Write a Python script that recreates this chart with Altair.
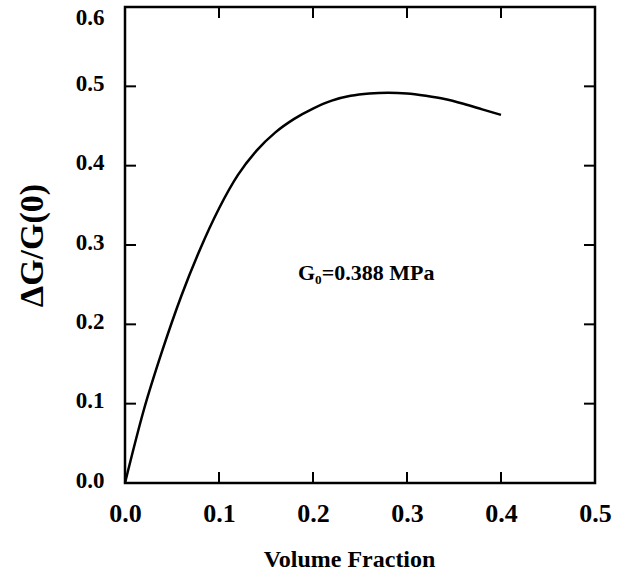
import altair as alt
import pandas as pd

# Curve
vol_fraction = [0.0, 0.02, 0.04, 0.06, 0.08, 0.10, 0.12, 0.14, 0.16, 0.18, 0.20, 0.22, 0.24,
                0.26, 0.28, 0.30, 0.32, 0.34, 0.36, 0.38, 0.40]
delta_g = [0.0, 0.092, 0.168, 0.236, 0.295, 0.346, 0.388, 0.419, 0.442, 0.459, 0.472, 0.482, 0.488,
           0.491, 0.492, 0.491, 0.488, 0.484, 0.478, 0.471, 0.464]

x_ticks = [0.0, 0.1, 0.2, 0.3, 0.4, 0.5]
y_ticks = [0.0, 0.1, 0.2, 0.3, 0.4, 0.5, 0.6]
x_inner_ticks = [0.1, 0.2, 0.3, 0.4]
y_inner_ticks = [0.1, 0.2, 0.3, 0.4, 0.5]

note_x = [0.184]
note_y = [0.265]
note_text = ["G\u2080=0.388 MPa"]

FONT = "Liberation Serif"
W, H = 470, 476
TL = 11

curve_df = pd.DataFrame({"x": vol_fraction, "y": delta_g})
xt_df = pd.DataFrame({"x": x_inner_ticks})
yt_df = pd.DataFrame({"y": y_inner_ticks})
note_df = pd.DataFrame({"x": note_x, "y": note_y, "t": note_text})

xs = alt.Scale(domain=[0, 0.5], nice=False)
ys = alt.Scale(domain=[0, 0.6], nice=False)

curve = alt.Chart(curve_df).mark_line(color="black", strokeWidth=2.5, interpolate="monotone").encode(
    x=alt.X("x:Q", scale=xs, axis=alt.Axis(
        title="Volume Fraction", values=x_ticks, format=".1f", domain=False, ticks=False, grid=False,
        labelFlush=False,
        labelFont=FONT, labelFontSize=26, labelFontWeight="bold", labelColor="black", labelPadding=17,
        titleFont=FONT, titleFontSize=24, titleFontWeight="bold", titleColor="black",
        titleX=224, titleY=83, titleBaseline="alphabetic")),
    y=alt.Y("y:Q", scale=ys, axis=alt.Axis(
        title="\u0394G/G(0)", values=y_ticks, format=".1f", domain=False, ticks=False, grid=False,
        labelFlush=False,
        labelOffset={"condition": {"test": "datum.value >= 0.59", "value": 10}, "value": -3},
        labelFont=FONT, labelFontSize=23, labelFontWeight="bold", labelColor="black", labelPadding=21,
        titleFont=FONT, titleFontSize=34, titleFontWeight="bold", titleColor="black",
        titleX=-83, titleY=H / 2, titleBaseline="alphabetic")),
)

bottom_ticks = alt.Chart(xt_df).mark_rule(color="black", strokeWidth=2).encode(
    x=alt.X("x:Q", scale=xs), y=alt.value(H), y2=alt.value(H - TL))
top_ticks = alt.Chart(xt_df).mark_rule(color="black", strokeWidth=2).encode(
    x=alt.X("x:Q", scale=xs), y=alt.value(0), y2=alt.value(TL))
left_ticks = alt.Chart(yt_df).mark_rule(color="black", strokeWidth=2).encode(
    y=alt.Y("y:Q", scale=ys), x=alt.value(0), x2=alt.value(TL))
right_ticks = alt.Chart(yt_df).mark_rule(color="black", strokeWidth=2).encode(
    y=alt.Y("y:Q", scale=ys), x=alt.value(W), x2=alt.value(W - TL))

note = alt.Chart(note_df).mark_text(
    font=FONT, fontSize=22, fontWeight="bold", color="black", align="left", baseline="middle"
).encode(x=alt.X("x:Q", scale=xs), y=alt.Y("y:Q", scale=ys), text="t:N")

chart = alt.layer(curve, bottom_ticks, top_ticks, left_ticks, right_ticks, note).properties(
    width=W, height=H,
    background="white",
    autosize=alt.AutoSizeParams(type="none"),
    padding={"left": 125, "top": 7, "right": 26, "bottom": 92},
).configure_view(stroke="black", strokeWidth=2.5).configure_axis(
    labelFont=FONT, titleFont=FONT
)

chart.save("out.html", embed_options={"renderer": "svg", "actions": False})
